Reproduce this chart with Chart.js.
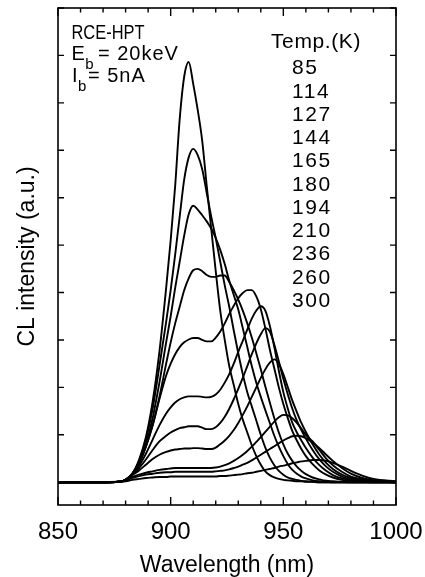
<!DOCTYPE html>
<html><head><meta charset="utf-8">
<script src="https://cdn.jsdelivr.net/npm/chart.js@4.4.1/dist/chart.umd.min.js"></script>
<style>html,body{margin:0;padding:0;background:#fff}canvas{display:block}</style>
</head><body>
<canvas id="c" width="425" height="577"></canvas>
<script>
const wavelengths = [850, 870, 877, 880, 883, 886, 889, 892, 895, 898,
  900, 902, 904, 906, 908, 910, 912, 914, 916, 918,
  920, 922, 924, 926, 928, 930, 932, 934, 936, 938,
  940, 942, 944, 946, 948, 950, 952, 954, 956, 958,
  960, 963, 966, 969, 972, 976, 980, 985, 990, 1000];

const temperatures = ['85', '114', '127', '144', '165', '180', '194', '210', '236', '260', '300'];

const I85 = [0, 0, 0.01, 0.05, 0.18, 0.48, 0.95, 1.7, 2.75, 4.1,
  5.1, 6.25, 7.65, 8.55, 8.86, 8.4, 7.85, 7.2, 6.25, 5.35,
  4.45, 3.62, 3.0, 2.45, 2.05, 1.65, 1.32, 1.05, 0.78, 0.55,
  0.37, 0.23, 0.15, 0.1, 0.07, 0.05, 0.04, 0.03, 0.02, 0.02,
  0.01, 0.01, 0, 0, 0, 0, 0, 0, 0, 0];
const I114 = [0, 0, 0.01, 0.05, 0.18, 0.45, 0.9, 1.55, 2.45, 3.38,
  4.05, 4.8, 5.6, 6.38, 6.85, 7.03, 6.9, 6.6, 6.1, 5.6,
  5.15, 4.65, 4.15, 3.7, 3.2, 2.72, 2.28, 1.9, 1.6, 1.3,
  1.0, 0.73, 0.52, 0.36, 0.24, 0.16, 0.1, 0.07, 0.05, 0.03,
  0.02, 0.01, 0, 0, 0, 0, 0, 0, 0, 0];
const I127 = [0, 0, 0.01, 0.05, 0.18, 0.42, 0.8, 1.35, 2.1, 2.95,
  3.5, 4.1, 4.65, 5.2, 5.65, 5.83, 5.75, 5.63, 5.5, 5.35,
  5.15, 4.9, 4.6, 4.25, 3.95, 3.64, 3.25, 2.85, 2.45, 2.1,
  1.8, 1.52, 1.25, 0.98, 0.75, 0.55, 0.38, 0.26, 0.18, 0.12,
  0.08, 0.04, 0.02, 0.01, 0, 0, 0, 0, 0, 0];
const I144 = [0, 0, 0.01, 0.05, 0.18, 0.4, 0.75, 1.2, 1.8, 2.5,
  2.95, 3.35, 3.7, 4.05, 4.3, 4.47, 4.5, 4.45, 4.37, 4.33,
  4.33, 4.36, 4.36, 4.22, 4.05, 3.85, 3.62, 3.35, 3.05, 2.72,
  2.38, 2.02, 1.68, 1.35, 1.05, 0.8, 0.6, 0.45, 0.33, 0.24,
  0.17, 0.1, 0.06, 0.03, 0.02, 0.01, 0, 0, 0, 0];
const I165 = [0, 0, 0.01, 0.05, 0.17, 0.4, 0.75, 1.2, 1.75, 2.25,
  2.5, 2.7, 2.85, 2.95, 3.01, 3.04, 3.04, 3.0, 2.97, 2.97,
  3.05, 3.18, 3.35, 3.55, 3.72, 3.88, 3.99, 4.05, 4.05, 3.92,
  3.65, 3.25, 2.8, 2.4, 2.0, 1.65, 1.35, 1.08, 0.88, 0.7,
  0.55, 0.38, 0.25, 0.16, 0.1, 0.05, 0.02, 0.01, 0, 0];
const I180 = [0, 0, 0.01, 0.05, 0.17, 0.35, 0.6, 0.9, 1.2, 1.45,
  1.58, 1.68, 1.75, 1.79, 1.81, 1.81, 1.81, 1.8, 1.79, 1.8,
  1.85, 1.95, 2.1, 2.28, 2.5, 2.75, 2.98, 3.22, 3.45, 3.62,
  3.71, 3.62, 3.3, 2.85, 2.35, 1.9, 1.55, 1.25, 1.05, 0.88,
  0.72, 0.52, 0.36, 0.24, 0.15, 0.08, 0.04, 0.02, 0.01, 0];
const I194 = [0, 0, 0.01, 0.05, 0.16, 0.3, 0.48, 0.68, 0.86, 0.98,
  1.05, 1.1, 1.14, 1.16, 1.18, 1.18, 1.18, 1.15, 1.12, 1.12,
  1.16, 1.25, 1.38, 1.55, 1.75, 1.97, 2.2, 2.45, 2.7, 2.93,
  3.12, 3.25, 3.18, 2.9, 2.55, 2.18, 1.85, 1.55, 1.3, 1.1,
  0.92, 0.68, 0.48, 0.33, 0.22, 0.12, 0.06, 0.03, 0.01, 0];
const I210 = [0, 0, 0.01, 0.05, 0.15, 0.25, 0.37, 0.49, 0.58, 0.64,
  0.67, 0.69, 0.7, 0.71, 0.71, 0.72, 0.72, 0.71, 0.7, 0.7,
  0.73, 0.8, 0.88, 0.98, 1.1, 1.25, 1.42, 1.6, 1.8, 2.0,
  2.2, 2.38, 2.52, 2.59, 2.5, 2.28, 2.0, 1.72, 1.48, 1.25,
  1.06, 0.8, 0.58, 0.41, 0.28, 0.16, 0.09, 0.04, 0.02, 0];
const I236 = [0, 0, 0.01, 0.04, 0.11, 0.16, 0.2, 0.23, 0.26, 0.28,
  0.29, 0.3, 0.3, 0.3, 0.3, 0.3, 0.3, 0.3, 0.3, 0.3,
  0.31, 0.33, 0.36, 0.4, 0.45, 0.51, 0.58, 0.66, 0.75, 0.85,
  0.95, 1.06, 1.17, 1.28, 1.37, 1.42, 1.41, 1.35, 1.25, 1.13,
  1.0, 0.86, 0.68, 0.5, 0.36, 0.22, 0.12, 0.06, 0.03, 0.01];
const I260 = [0, 0, 0.01, 0.03, 0.09, 0.13, 0.16, 0.18, 0.2, 0.21,
  0.21, 0.22, 0.22, 0.22, 0.22, 0.22, 0.22, 0.22, 0.22, 0.22,
  0.23, 0.24, 0.25, 0.27, 0.3, 0.33, 0.37, 0.41, 0.46, 0.52,
  0.58, 0.64, 0.7, 0.76, 0.82, 0.88, 0.93, 0.97, 0.98, 0.97,
  0.93, 0.84, 0.72, 0.58, 0.45, 0.3, 0.18, 0.09, 0.04, 0.01];
const I300 = [0, 0, 0.01, 0.02, 0.05, 0.07, 0.09, 0.1, 0.11, 0.11,
  0.12, 0.12, 0.12, 0.12, 0.12, 0.12, 0.12, 0.12, 0.12, 0.12,
  0.12, 0.13, 0.13, 0.14, 0.15, 0.16, 0.17, 0.19, 0.2, 0.22,
  0.24, 0.26, 0.28, 0.3, 0.33, 0.35, 0.37, 0.4, 0.42, 0.44,
  0.45, 0.47, 0.47, 0.45, 0.41, 0.33, 0.24, 0.14, 0.07, 0.02];

const seriesValues = [I85, I114, I127, I144, I165, I180, I194, I210, I236, I260, I300];

const xTickLabels = [850, 900, 950, 1000];
const xMinorTicks = [850, 860, 870, 880, 890, 900, 910, 920, 930, 940, 950, 960, 970, 980, 990, 1000];
const yTickValues = [0, 1, 2, 3, 4, 5, 6, 7, 8, 9, 10];

const FONT = '"Liberation Sans", Arial, Helvetica, sans-serif';

const datasets = seriesValues.map((vals, k) => ({
  label: temperatures[k] + ' K',
  data: wavelengths.map((w, i) => ({ x: w, y: vals[i] })),
  borderColor: '#000',
  borderWidth: 1.9,
  pointRadius: 0,
  fill: false,
  cubicInterpolationMode: 'monotone'
}));

const frameAndText = {
  id: 'frameAndText',
  afterDatasetsDraw(chart) {
    const { ctx, chartArea: { left, right, top, bottom }, scales: { x, y } } = chart;
    ctx.save();
    ctx.strokeStyle = '#000';
    ctx.lineWidth = 1.6;
    ctx.strokeRect(left, top, right - left, bottom - top);
    ctx.lineWidth = 1.4;
    ctx.beginPath();
    for (const v of xMinorTicks) {
      const px = x.getPixelForValue(v);
      const len = xTickLabels.includes(v) ? 8 : 4.5;
      ctx.moveTo(px, bottom); ctx.lineTo(px, bottom - len);
      ctx.moveTo(px, top); ctx.lineTo(px, top + len);
    }
    for (const v of yTickValues) {
      const py = y.getPixelForValue(v);
      ctx.moveTo(left, py); ctx.lineTo(left + 6, py);
      ctx.moveTo(right, py); ctx.lineTo(right - 6, py);
    }
    ctx.stroke();

    ctx.fillStyle = '#000';
    ctx.textAlign = 'left';
    ctx.textBaseline = 'alphabetic';
    const ox = left, oy = top;
    const hasLS = 'letterSpacing' in ctx;
    // sample description
    ctx.font = '20px ' + FONT;
    ctx.fillText('RCE-HPT', ox + 13.5, oy + 31, 73);
    const drawSub = (xm, yb, main, sub, rest, restX) => {
      ctx.font = '20px ' + FONT;
      ctx.fillText(main, xm, yb);
      const w = ctx.measureText(main).width;
      ctx.font = '15px ' + FONT;
      ctx.fillText(sub, xm + w + 0.5, yb + 9);
      ctx.font = '20px ' + FONT;
      if (hasLS) ctx.letterSpacing = '1px';
      ctx.fillText(rest, restX, yb);
      if (hasLS) ctx.letterSpacing = '0px';
    };
    drawSub(ox + 13.5, oy + 52, 'E', 'b', '= 20keV', ox + 40);
    drawSub(ox + 14, oy + 74, 'I', 'b', '= 5nA', ox + 30);

    // temperature list
    ctx.font = '21px ' + FONT;
    if (hasLS) ctx.letterSpacing = '0.6px';
    ctx.fillText('Temp.(K)', ox + 213, oy + 40);
    if (hasLS) ctx.letterSpacing = '1.6px';
    temperatures.forEach((t, k) => {
      ctx.fillText(t, ox + 234, oy + 66.3 + k * 23.27);
    });
    if (hasLS) ctx.letterSpacing = '0px';
    ctx.restore();
  }
};

new Chart(document.getElementById('c'), {
  type: 'line',
  data: { datasets },
  options: {
    responsive: false,
    animation: false,
    events: [],
    layout: { padding: { top: 8, right: 29, left: 0, bottom: 0 } },
    plugins: { legend: { display: false }, tooltip: { enabled: false } },
    scales: {
      x: {
        type: 'linear', min: 850, max: 1000, position: 'bottom',
        grid: { display: false, drawTicks: false },
        border: { display: false },
        ticks: {
          stepSize: 50, padding: 13, color: '#000', maxRotation: 0,
          font: { family: FONT, size: 24 },
          callback: v => xTickLabels.includes(v) ? String(v) : ''
        },
        title: {
          display: true, text: 'Wavelength (nm)', color: '#000',
          font: { family: FONT, size: 23, lineHeight: 1 },
          padding: { top: 0, bottom: 0 }
        },
        afterFit: s => { s.height = 72; s.paddingLeft = 0; s.paddingRight = 0; }
      },
      y: {
        type: 'linear', min: -0.48, max: 10, position: 'left',
        grid: { display: false, drawTicks: false },
        border: { display: false },
        ticks: { display: false, stepSize: 1 },
        title: {
          display: true, text: 'CL intensity (a.u.)', color: '#000',
          font: { family: FONT, size: 23, lineHeight: 1 },
          padding: { top: 16, bottom: 0 }
        },
        afterFit: s => { s.width = 58; }
      }
    }
  },
  plugins: [frameAndText]
});
</script>
</body></html>
